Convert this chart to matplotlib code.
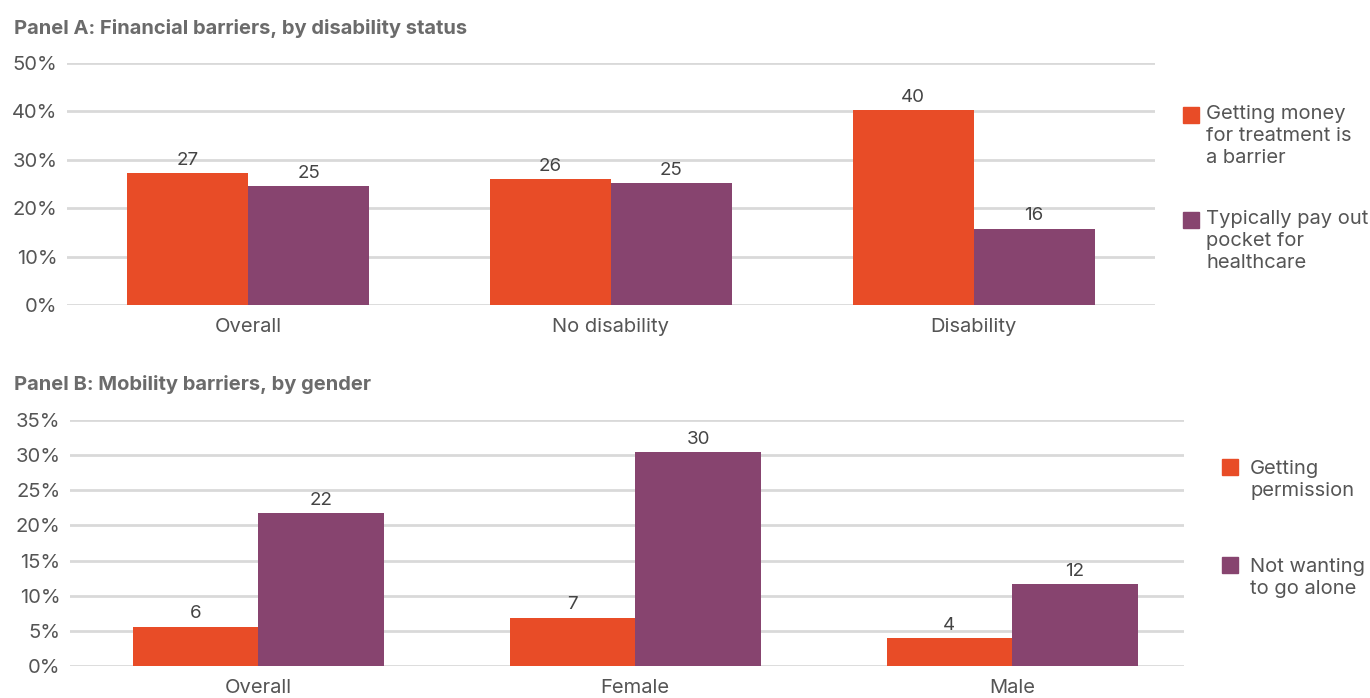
import matplotlib
matplotlib.use("Agg")
import matplotlib.pyplot as plt
from matplotlib.patches import Rectangle
import numpy as np

plt.rcParams['font.family'] = ['Inter', 'DejaVu Sans']

# Panel A data
cats_a = ["Overall", "No disability", "Disability"]
money_barrier = [27.3, 26.1, 40.3]
pay_pocket = [24.6, 25.2, 15.8]
money_lbl = [27, 26, 40]
pocket_lbl = [25, 25, 16]
yticks_a = [0, 10, 20, 30, 40, 50]

# Panel B data
cats_b = ["Overall", "Female", "Male"]
permission = [5.6, 6.9, 4.0]
not_alone = [21.7, 30.4, 11.6]
perm_lbl = [6, 7, 4]
alone_lbl = [22, 30, 12]
yticks_b = [0, 5, 10, 15, 20, 25, 30, 35]

ORANGE = "#E84C27"
PURPLE = "#87446F"
TXT = "#555555"
TITLE = "#6b6b6b"
GRID = "#d9d9d9"

W, H = 1370, 698
fig = plt.figure(figsize=(W/100, H/100), dpi=100)


def px_axes(l, t, r, b):
    return fig.add_axes([l/W, 1-b/H, (r-l)/W, (b-t)/H])


def draw_panel(ax, cats, s1, s2, l1, l2, yticks, xlim):
    x = np.arange(len(cats))
    w = 1/3
    b1 = ax.bar(x - w, s1, w, align='edge', color=ORANGE, zorder=3)
    b2 = ax.bar(x, s2, w, align='edge', color=PURPLE, zorder=3)
    for bars, lbls in ((b1, l1), (b2, l2)):
        for rect, v in zip(bars, lbls):
            ax.annotate(str(v), (rect.get_x() + rect.get_width()/2, rect.get_height()),
                        xytext=(0, 3), textcoords='offset points', ha='center', va='bottom',
                        fontsize=13.5, color="#444444")
    ax.set_ylim(yticks[0], yticks[-1])
    ax.set_yticks(yticks)
    ax.set_yticklabels([f"{t}%" for t in yticks])
    ax.set_xticks(x)
    ax.set_xticklabels(cats)
    ax.set_xlim(*xlim)
    ax.yaxis.grid(True, color=GRID, lw=2, zorder=0)
    ax.set_axisbelow(True)
    for s in ax.spines.values():
        s.set_visible(False)
    ax.tick_params(axis='y', length=0, pad=7, labelsize=14.5, labelcolor=TXT)
    ax.tick_params(axis='x', length=0, pad=9.5, labelsize=14.5, labelcolor=TXT)


ax1 = px_axes(67, 63, 1155, 305)
draw_panel(ax1, cats_a, money_barrier, pay_pocket, money_lbl, pocket_lbl, yticks_a, (-0.5, 2.5))
ax2 = px_axes(70, 420, 1184, 666)
draw_panel(ax2, cats_b, permission, not_alone, perm_lbl, alone_lbl, yticks_b, (-0.5, 2.456))

fig.text(14/W, 1-28/H, "Panel A: Financial barriers, by disability status", fontsize=14.5,
         fontweight='bold', color=TITLE, va='center', ha='left')
fig.text(14/W, 1-384/H, "Panel B: Mobility barriers, by gender", fontsize=14.5,
         fontweight='bold', color=TITLE, va='center', ha='left')

# legends
legend_items = [
    (1183, 107, 1206, 1, ORANGE, "Getting money\nfor treatment is\na barrier"),
    (1183, 212, 1206, 1, PURPLE, "Typically pay out\npocket for\nhealthcare"),
    (1222, 459, 1250, 4, ORANGE, "Getting\npermission"),
    (1222, 557, 1250, 4, PURPLE, "Not wanting\nto go alone"),
]
for sx, sy, tx, dy, col, lab in legend_items:
    fig.add_artist(Rectangle((sx/W, 1-(sy+16)/H), 16/W, 16/H, color=col, transform=fig.transFigure))
    fig.text(tx/W, 1-(sy-3+dy)/H, lab, fontsize=14.5, color=TXT, va='top', ha='left', linespacing=1.3)

fig.savefig("out.png", dpi=100, facecolor='white')
